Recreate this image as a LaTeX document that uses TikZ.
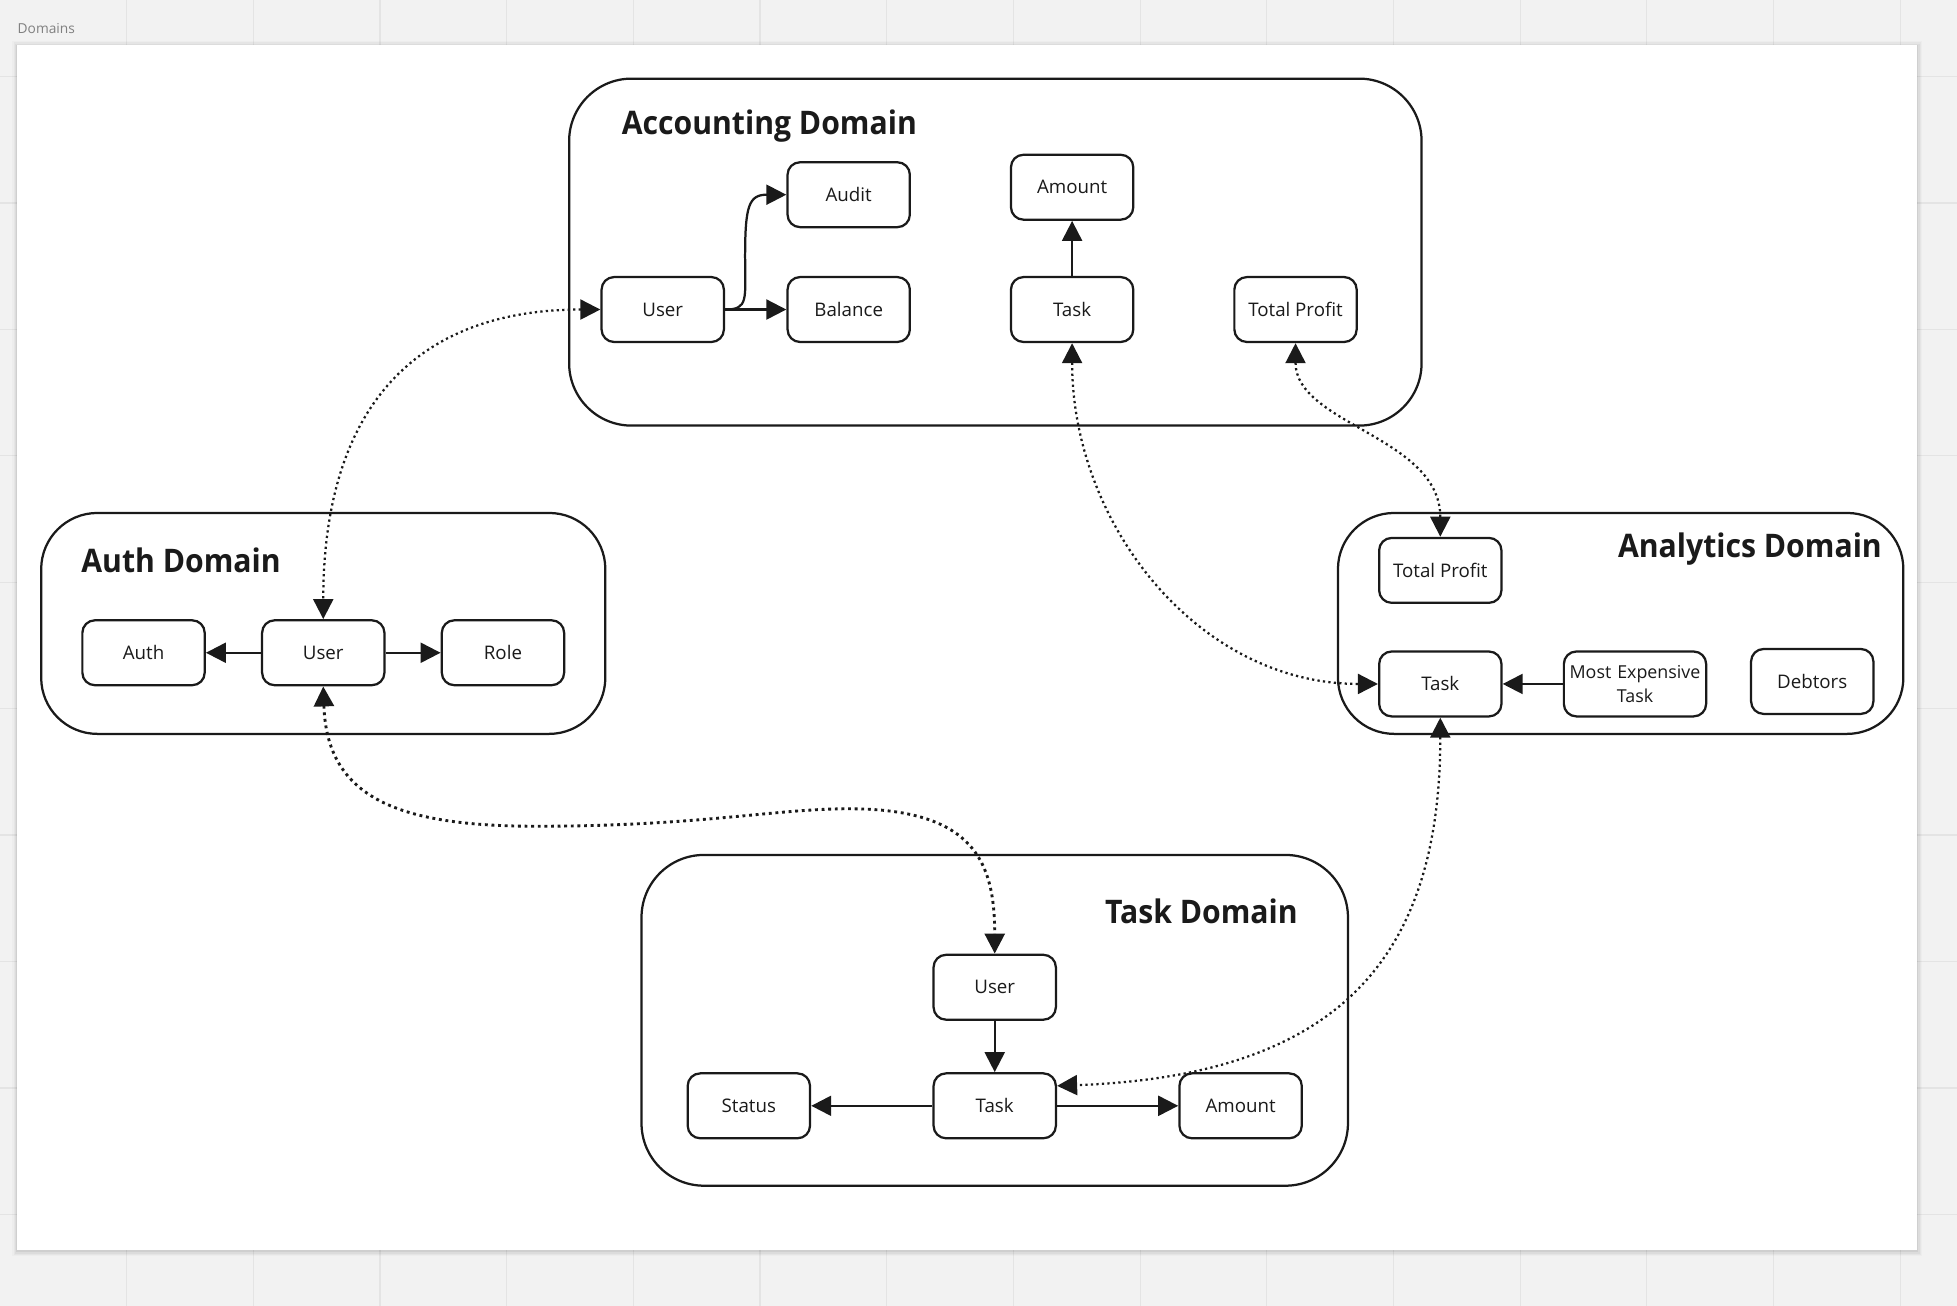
\documentclass[tikz,border=0pt]{standalone}
\usepackage{fontspec}
\setmainfont{Open Sans}
\usetikzlibrary{arrows.meta}
\definecolor{ink}{HTML}{1A1A1A}
\definecolor{bg}{HTML}{F2F2F2}
\definecolor{gridc}{HTML}{E4E4E4}
\newcommand{\ttl}[1]{\scalebox{0.93}[1]{#1}}
\begin{document}
\begin{tikzpicture}[x=1pt,y=-1pt,
  box/.style={draw=ink,line width=1.8pt,rounded corners=10pt,minimum width=98pt,minimum height=52pt,fill=white,font=\fontsize{15}{18}\selectfont,text=ink,align=center,inner sep=2pt,outer sep=1pt},
  dom/.style={draw=ink,line width=1.8pt,rounded corners=50pt,inner sep=0pt},
  title/.style={font=\bfseries\fontsize{26}{30}\selectfont,text=ink,inner sep=0pt},
  arr/.style={draw=ink,line width=1.8pt,-{Triangle[length=16pt,width=16pt]}},
  dots/.style={draw=ink,line width=1.8pt,dash pattern=on 1.8pt off 2.6pt,{Triangle[length=16pt,width=16pt]}-{Triangle[length=16pt,width=16pt]}},
]
\useasboundingbox (0,0) rectangle (1568,1046);
\fill[bg] (0,0) rectangle (1568,1046);
% grid
\foreach \k in {1,...,15} {\draw[gridc,line width=1pt] (101.5*\k,0) -- (101.5*\k,1046);}
\foreach \k in {0,...,9} {\draw[gridc,line width=1pt] (0,973-101.3*\k) -- (1568,973-101.3*\k);}
% board with shadow
\foreach \o/\a in {4/0.02,3/0.03,2/0.04,1/0.06} {\fill[black,opacity=\a] (14-\o,36-\o+1) rectangle (1536+\o,1001.5+\o+1);}
\fill[white] (14,36) rectangle (1536,1001.5);
\node[anchor=west,inner sep=0pt,text=black!50,font=\fontsize{11}{13}\selectfont] (lbl) at (14,23) {Domains};

% domains
\node[dom,minimum width=683pt,minimum height=278pt] (acc) at (797.5,202) {};
\node[dom,rounded corners=45pt,minimum width=452pt,minimum height=177pt] (auth) at (259,499.5) {};
\node[dom,rounded corners=45pt,minimum width=453pt,minimum height=177pt] (ana) at (1298.5,499.5) {};
\node[dom,minimum width=566pt,minimum height=265pt] (task) at (797,817.5) {};

\node[title,anchor=west] (accT) at (498,101) {\ttl{Accounting Domain}};
\node[title,anchor=west] (authT) at (65,449) {\ttl{Auth Domain}};
\node[title,anchor=east] (anaT) at (1508,440) {\ttl{Analytics Domain}};
\node[title,anchor=east] (taskT) at (1040,730) {\ttl{Task Domain}};

% accounting nodes
\node[box] (aU) at (531,248) {User};
\node[box] (aAud) at (680,156) {Audit};
\node[box] (aBal) at (680,248) {Balance};
\node[box] (aAm) at (859,150) {Amount};
\node[box] (aT) at (859,248) {Task};
\node[box] (aP) at (1038,248) {Total Profit};
% auth nodes
\node[box] (uA) at (115,523) {Auth};
\node[box] (uU) at (259,523) {User};
\node[box] (uR) at (403,523) {Role};
% analytics nodes
\node[box] (nP) at (1154,457) {Total Profit};
\node[box] (nT) at (1154,548) {Task};
\node[box,minimum width=114pt,text width=108pt,font=\fontsize{14.3}{19}\selectfont] (nM) at (1310,548) {Most Expensive\\Task};
\node[box] (nD) at (1452,546) {Debtors};
% task nodes
\node[box] (tU) at (797,791) {User};
\node[box] (tT) at (797,886) {Task};
\node[box] (tS) at (600,886) {Status};
\node[box] (tA) at (994,886) {Amount};

% solid arrows
\draw[arr] (aU.east) .. controls (600,248) and (597,240) .. (597,205) .. controls (597,165) and (600,156) .. (aAud.west);
\draw[arr] (aU.east) -- (aBal.west);
\draw[arr] (aT.north) -- (aAm.south);
\draw[arr] (uU.west) -- (uA.east);
\draw[arr] (uU.east) -- (uR.west);
\draw[arr] (nM.west) -- (nT.east);
\draw[arr] (tU.south) -- (tT.north);
\draw[arr] (tT.west) -- (tS.east);
\draw[arr] (tT.east) -- (tA.west);

% dotted links
\draw[dots] (aU.west) .. controls (330,248) and (259,330) .. (uU.north);
\draw[dots,line width=2.3pt,dash pattern=on 2.3pt off 3pt] (uU.south) .. controls (262,640) and (320,662) .. (430,662) .. controls (560,662) and (620,648) .. (680,648) .. controls (780,648) and (797,690) .. (tU.north);
\draw[dots] (aT.south) .. controls (859,420) and (960,548) .. (nT.west);
\draw[dots] (aP.south) .. controls (1038,340) and (1154,350) .. (nP.north);
\draw[dots] (nT.south) .. controls (1154,770) and (1070,862) .. ([yshift=16pt]tT.east);
\end{tikzpicture}
\end{document}
